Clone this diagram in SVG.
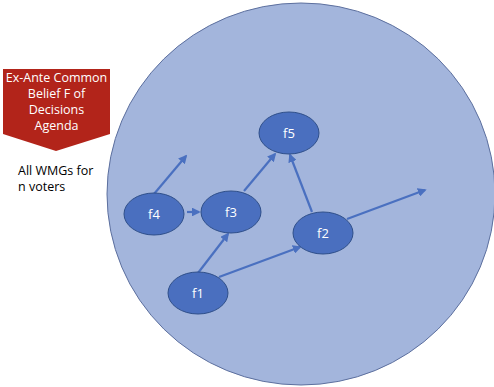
<svg xmlns="http://www.w3.org/2000/svg" width="494" height="387" viewBox="0 0 494 387">
<style>
.node ellipse{fill:#4A6FBF;stroke:#2F4F8A;stroke-width:1}
.node text{fill:#fff;font-family:"Open Sans","Liberation Sans",sans-serif;font-size:13px;text-anchor:middle}
.conn line{stroke:#4A70C0;stroke-width:2.2;marker-end:url(#ah)}
.lbl{font-family:"Open Sans","Liberation Sans",sans-serif;font-size:12.5px}
</style>
<defs>
<marker id="ah" viewBox="0 0 10 10" refX="8" refY="5" markerWidth="4" markerHeight="4" orient="auto" markerUnits="strokeWidth">
<path d="M0,0 L10,5 L0,10 z" fill="#4A70C0"/>
</marker>
</defs>
<rect width="494" height="387" fill="#fff"/>
<g id="universe">
<ellipse cx="301" cy="194" rx="194" ry="191" fill="#A3B5DC" stroke="#5C6F9E" stroke-width="1"/>
</g>
<g id="banner">
<path d="M3,69 H110 V134 L56,151 L3,134 Z" fill="#B2241A"/>
<text class="lbl" fill="#fff" text-anchor="middle" x="56.5" y="82">Ex-Ante Common</text>
<text class="lbl" fill="#fff" text-anchor="middle" x="56.5" y="98">Belief F of</text>
<text class="lbl" fill="#fff" text-anchor="middle" x="56.5" y="114">Decisions</text>
<text class="lbl" fill="#fff" text-anchor="middle" x="56.5" y="130">Agenda</text>
</g>
<g id="caption">
<text class="lbl" fill="#000" x="18" y="175">All WMGs for</text>
<text class="lbl" fill="#000" x="18" y="191">n voters</text>
</g>
<g id="connectors" class="conn">
<line x1="154" y1="194" x2="186" y2="156"/>
<line x1="187" y1="212" x2="199" y2="212"/>
<line x1="244" y1="191" x2="275" y2="154"/>
<line x1="312" y1="212" x2="290" y2="155"/>
<line x1="347" y1="219" x2="425" y2="190"/>
<line x1="198" y1="273" x2="228" y2="234"/>
<line x1="219" y1="277" x2="300" y2="247"/>
</g>
<g id="f5" class="node"><ellipse cx="289" cy="133" rx="30" ry="21"/><text x="289" y="138">f5</text></g>
<g id="f4" class="node"><ellipse cx="154" cy="214" rx="30" ry="21"/><text x="154" y="219">f4</text></g>
<g id="f3" class="node"><ellipse cx="231" cy="212" rx="30" ry="21"/><text x="231" y="217">f3</text></g>
<g id="f2" class="node"><ellipse cx="323" cy="233" rx="30" ry="21"/><text x="323" y="238">f2</text></g>
<g id="f1" class="node"><ellipse cx="198" cy="293" rx="30" ry="21"/><text x="198" y="298">f1</text></g>
</svg>
